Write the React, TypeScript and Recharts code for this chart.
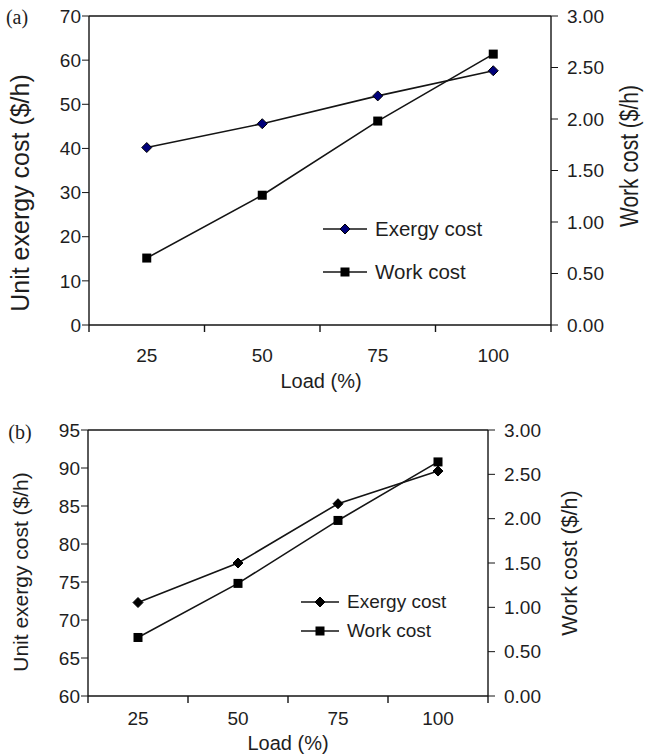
import React from "react";
import { LineChart, Line, XAxis, YAxis, ReferenceLine, Legend } from "recharts";

// shared x categories (load %)
const loads = [25, 50, 75, 100];
const xTickPositions = [12.5, 25, 37.5, 50, 62.5, 75, 87.5, 100, 112.5];

// panel (a)
const exergyA = [40.2, 45.6, 51.9, 57.6];
const workA = [0.65, 1.26, 1.98, 2.63];
const leftTicksA = [0, 10, 20, 30, 40, 50, 60, 70];

// panel (b)
const exergyB = [72.3, 77.5, 85.3, 89.6];
const workB = [0.66, 1.27, 1.98, 2.64];
const leftTicksB = [60, 65, 70, 75, 80, 85, 90, 95];

const rightTicks = [0, 0.5, 1, 1.5, 2, 2.5, 3];

const FONT = '"Liberation Sans", Arial, Helvetica, sans-serif';
const SERIF = '"Liberation Serif", "Times New Roman", serif';
const INK = "#141414";
const TEXT = "#1e1e1e";

const toRows = (ex: number[], wk: number[]) =>
  loads.map((load, i) => ({ load, exergy: ex[i], work: wk[i] }));

const Diamond = (fill: string) => (props: any) => {
  const { cx, cy, index } = props;
  if (cx == null || cy == null) return <g key={`d-${index}`} />;
  const r = 5;
  return (
    <polygon
      key={`d-${index}`}
      points={`${cx},${cy - r} ${cx + r},${cy} ${cx},${cy + r} ${cx - r},${cy}`}
      fill={fill}
      stroke="#000"
      strokeWidth={1}
    />
  );
};

const Square = (props: any) => {
  const { cx, cy, index } = props;
  if (cx == null || cy == null) return <g key={`s-${index}`} />;
  return <rect key={`s-${index}`} x={cx - 4.5} y={cy - 4.5} width={9} height={9} fill="#000" />;
};

const makeXTick = (labelDy: number) => (props: any) => {
  const { x, y, payload } = props;
  const v = payload.value;
  if (loads.includes(v)) {
    return (
      <text x={x} y={y + labelDy} textAnchor="middle" fontSize={19} fill={TEXT} fontFamily={FONT}>
        {v}
      </text>
    );
  }
  return <line x1={x} x2={x} y1={y} y2={y + 7} stroke={INK} strokeWidth={1.4} />;
};

const rotated = (text: string, x: number, y: number, size: number, len?: number) => () => (
  <text
    x={x}
    y={y}
    transform={`rotate(-90 ${x} ${y})`}
    textAnchor="middle"
    dominantBaseline="central"
    fontSize={size}
    fill={TEXT}
    fontFamily={FONT}
    textLength={len}
    lengthAdjust={len ? "spacingAndGlyphs" : undefined}
  >
    {text}
  </text>
);

const flat = (text: string, x: number, y: number, size: number) => () => (
  <text x={x} y={y} textAnchor="middle" fontSize={size} fill={TEXT} fontFamily={FONT}>
    {text}
  </text>
);

const LegendBox = (diamondFill: string, gap: number, lineW: number, size: number) => (props: any) => {
  const items = props.payload || [];
  return (
    <div style={{ position: "relative", fontFamily: FONT, fontSize: size, color: TEXT }}>
      {items.map((it: any, i: number) => {
        const isEx = it.value === "Exergy cost";
        const c = lineW / 2;
        return (
          <div
            key={it.value}
            style={{ position: "absolute", top: i * gap, left: 0, height: 28, display: "flex", alignItems: "center", whiteSpace: "nowrap" }}
          >
            <svg width={lineW} height={28} style={{ marginRight: 8 }}>
              <line x1={0} x2={lineW} y1={14} y2={14} stroke={INK} strokeWidth={1.5} />
              {isEx ? (
                <polygon points={`${c},9 ${c + 5},14 ${c},19 ${c - 5},14`} fill={diamondFill} stroke="#000" />
              ) : (
                <rect x={c - 4.5} y={9.5} width={9} height={9} fill="#000" />
              )}
            </svg>
            <span>{it.value}</span>
          </div>
        );
      })}
    </div>
  );
};

const axisTick = { fontSize: 19, fill: TEXT, fontFamily: FONT };

export default function App() {
  const dataA = toRows(exergyA, workA);
  const dataB = toRows(exergyB, workB);
  return (
    <div style={{ position: "absolute", left: 0, top: 0, width: 646, height: 755, background: "#fff" }}>
      <div style={{ position: "absolute", left: 0, top: 0 }}>
        <LineChart width={646} height={392} data={dataA} margin={{ top: 16, right: 0, bottom: 0, left: 0 }}>
          <XAxis
            dataKey="load"
            type="number"
            domain={[12.5, 112.5]}
            ticks={xTickPositions}
            interval={0}
            height={67}
            tickSize={0}
            tickMargin={0}
            tickLine={false}
            axisLine={{ stroke: INK, strokeWidth: 1.4 }}
            tick={makeXTick(37)}
            label={flat("Load (%)", 321, 388, 20)}
          />
          <YAxis
            yAxisId="left"
            domain={[0, 70]}
            ticks={leftTicksA}
            interval={0}
            width={89}
            tickSize={7}
            tickMargin={1}
            tick={axisTick}
            tickLine={{ stroke: INK }}
            axisLine={{ stroke: INK, strokeWidth: 1.4 }}
            label={rotated("Unit exergy cost ($/h)", 20, 193, 25)}
          />
          <YAxis
            yAxisId="right"
            orientation="right"
            domain={[0, 3]}
            ticks={rightTicks}
            interval={0}
            width={95}
            tickSize={7}
            tickMargin={9}
            tick={{ ...axisTick, textAnchor: "start" }}
            tickFormatter={(v: number) => v.toFixed(2)}
            tickLine={{ stroke: INK }}
            axisLine={{ stroke: INK, strokeWidth: 1.4 }}
            label={rotated("Work cost ($/h)", 629, 156, 25, 142)}
          />
          <ReferenceLine yAxisId="left" y={70} stroke={INK} strokeWidth={1.4} />
          <Line yAxisId="left" dataKey="exergy" name="Exergy cost" stroke={INK} strokeWidth={1.6} dot={Diamond("#00007a")} isAnimationActive={false} />
          <Line yAxisId="right" dataKey="work" name="Work cost" stroke={INK} strokeWidth={1.6} dot={Square} isAnimationActive={false} />
          <Legend
            layout="vertical"
            align="center"
            verticalAlign="middle"
            content={LegendBox("#00007a", 43, 44, 20.5)}
            wrapperStyle={{ position: "absolute", left: 323, top: 215, width: 200, height: 80 }}
          />
          <text x={17} y={24} textAnchor="middle" fontSize={20} fill={TEXT} fontFamily={SERIF}>
            (a)
          </text>
        </LineChart>
      </div>
      <div style={{ position: "absolute", left: 0, top: 380 }}>
        <LineChart width={646} height={375} data={dataB} margin={{ top: 50, right: 0, bottom: 0, left: 0 }}>
          <XAxis
            dataKey="load"
            type="number"
            domain={[12.5, 112.5]}
            ticks={xTickPositions}
            interval={0}
            height={59}
            tickSize={0}
            tickMargin={0}
            tickLine={false}
            axisLine={{ stroke: INK, strokeWidth: 1.4 }}
            tick={makeXTick(29)}
            label={flat("Load (%)", 288, 370, 20)}
          />
          <YAxis
            yAxisId="left"
            domain={[60, 95]}
            ticks={leftTicksB}
            interval={0}
            width={88}
            tickSize={7}
            tickMargin={1}
            tick={axisTick}
            tickLine={{ stroke: INK }}
            axisLine={{ stroke: INK, strokeWidth: 1.4 }}
            label={rotated("Unit exergy cost ($/h)", 20, 192, 21)}
          />
          <YAxis
            yAxisId="right"
            orientation="right"
            domain={[0, 3]}
            ticks={rightTicks}
            interval={0}
            width={158}
            tickSize={7}
            tickMargin={9}
            tick={{ ...axisTick, textAnchor: "start" }}
            tickFormatter={(v: number) => v.toFixed(2)}
            tickLine={{ stroke: INK }}
            axisLine={{ stroke: INK, strokeWidth: 1.4 }}
            label={rotated("Work cost ($/h)", 570, 183, 21.5)}
          />
          <ReferenceLine yAxisId="left" y={95} stroke={INK} strokeWidth={1.4} />
          <Line yAxisId="left" dataKey="exergy" name="Exergy cost" stroke={INK} strokeWidth={1.6} dot={Diamond("#000")} isAnimationActive={false} />
          <Line yAxisId="right" dataKey="work" name="Work cost" stroke={INK} strokeWidth={1.6} dot={Square} isAnimationActive={false} />
          <Legend
            layout="vertical"
            align="center"
            verticalAlign="middle"
            content={LegendBox("#000", 29, 38, 19)}
            wrapperStyle={{ position: "absolute", left: 301, top: 208, width: 200, height: 70 }}
          />
          <text x={20} y={59} textAnchor="middle" fontSize={20} fill={TEXT} fontFamily={SERIF}>
            (b)
          </text>
        </LineChart>
      </div>
    </div>
  );
}
